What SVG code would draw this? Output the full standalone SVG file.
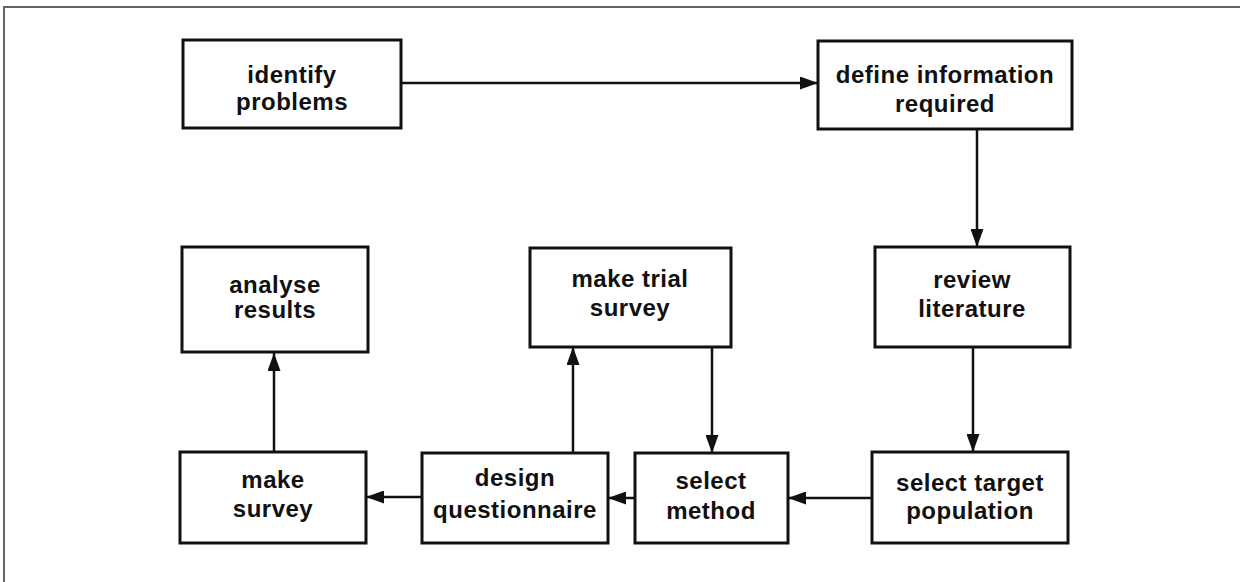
<svg xmlns="http://www.w3.org/2000/svg" width="1240" height="582" viewBox="0 0 1240 582">
  <style>
    .box { fill: #fff; stroke: #111; stroke-width: 3; }
    .lbl { font-family: "Liberation Sans", Arial, sans-serif; font-weight: bold; font-size: 24px; letter-spacing: 0.5px; fill: #111; text-anchor: middle; }
    .edge { fill: none; stroke: #111; stroke-width: 2.5; marker-end: url(#arrow); }
    .frame { fill: none; stroke: #666; stroke-width: 2; }
  </style>
  <defs>
    <marker id="arrow" markerUnits="userSpaceOnUse" markerWidth="18" markerHeight="13" refX="18" refY="6.5" orient="auto">
      <path d="M0,0 L18,6.5 L0,13 z" fill="#111"/>
    </marker>
  </defs>

  <rect width="1240" height="582" fill="#fff"/>
  <path class="frame" d="M4,582 V7 H1240"/>

  <g id="connectors">
    <path class="edge" d="M401,83 H818"/>
    <path class="edge" d="M977,129 V247"/>
    <path class="edge" d="M973,347 V452"/>
    <path class="edge" d="M872,498 H788"/>
    <path class="edge" d="M635,498 H608"/>
    <path class="edge" d="M422,497 H366"/>
    <path class="edge" d="M274,452 V353"/>
    <path class="edge" d="M573,453 V347"/>
    <path class="edge" d="M712,347 V453"/>
  </g>

  <g id="identify-problems">
    <rect class="box" x="183" y="40" width="218" height="88"/>
    <text class="lbl" x="292" y="83">identify</text>
    <text class="lbl" x="292" y="110">problems</text>
  </g>

  <g id="define-information">
    <rect class="box" x="818" y="41" width="254" height="88"/>
    <text class="lbl" x="945" y="83">define information</text>
    <text class="lbl" x="945" y="112">required</text>
  </g>

  <g id="analyse-results">
    <rect class="box" x="182" y="247" width="186" height="105"/>
    <text class="lbl" x="275" y="293">analyse</text>
    <text class="lbl" x="275" y="318">results</text>
  </g>

  <g id="make-trial-survey">
    <rect class="box" x="530" y="248" width="201" height="99"/>
    <text class="lbl" x="630" y="287">make trial</text>
    <text class="lbl" x="630" y="316">survey</text>
  </g>

  <g id="review-literature">
    <rect class="box" x="875" y="247" width="195" height="100"/>
    <text class="lbl" x="972" y="288">review</text>
    <text class="lbl" x="972" y="317">literature</text>
  </g>

  <g id="make-survey">
    <rect class="box" x="180" y="452" width="186" height="91"/>
    <text class="lbl" x="273" y="488">make</text>
    <text class="lbl" x="273" y="517">survey</text>
  </g>

  <g id="design-questionnaire">
    <rect class="box" x="422" y="453" width="186" height="90"/>
    <text class="lbl" x="515" y="486">design</text>
    <text class="lbl" x="515" y="518">questionnaire</text>
  </g>

  <g id="select-method">
    <rect class="box" x="635" y="453" width="153" height="90"/>
    <text class="lbl" x="711" y="489">select</text>
    <text class="lbl" x="711" y="519">method</text>
  </g>

  <g id="select-target-population">
    <rect class="box" x="872" y="452" width="196" height="91"/>
    <text class="lbl" x="970" y="491">select target</text>
    <text class="lbl" x="970" y="519">population</text>
  </g>
</svg>
